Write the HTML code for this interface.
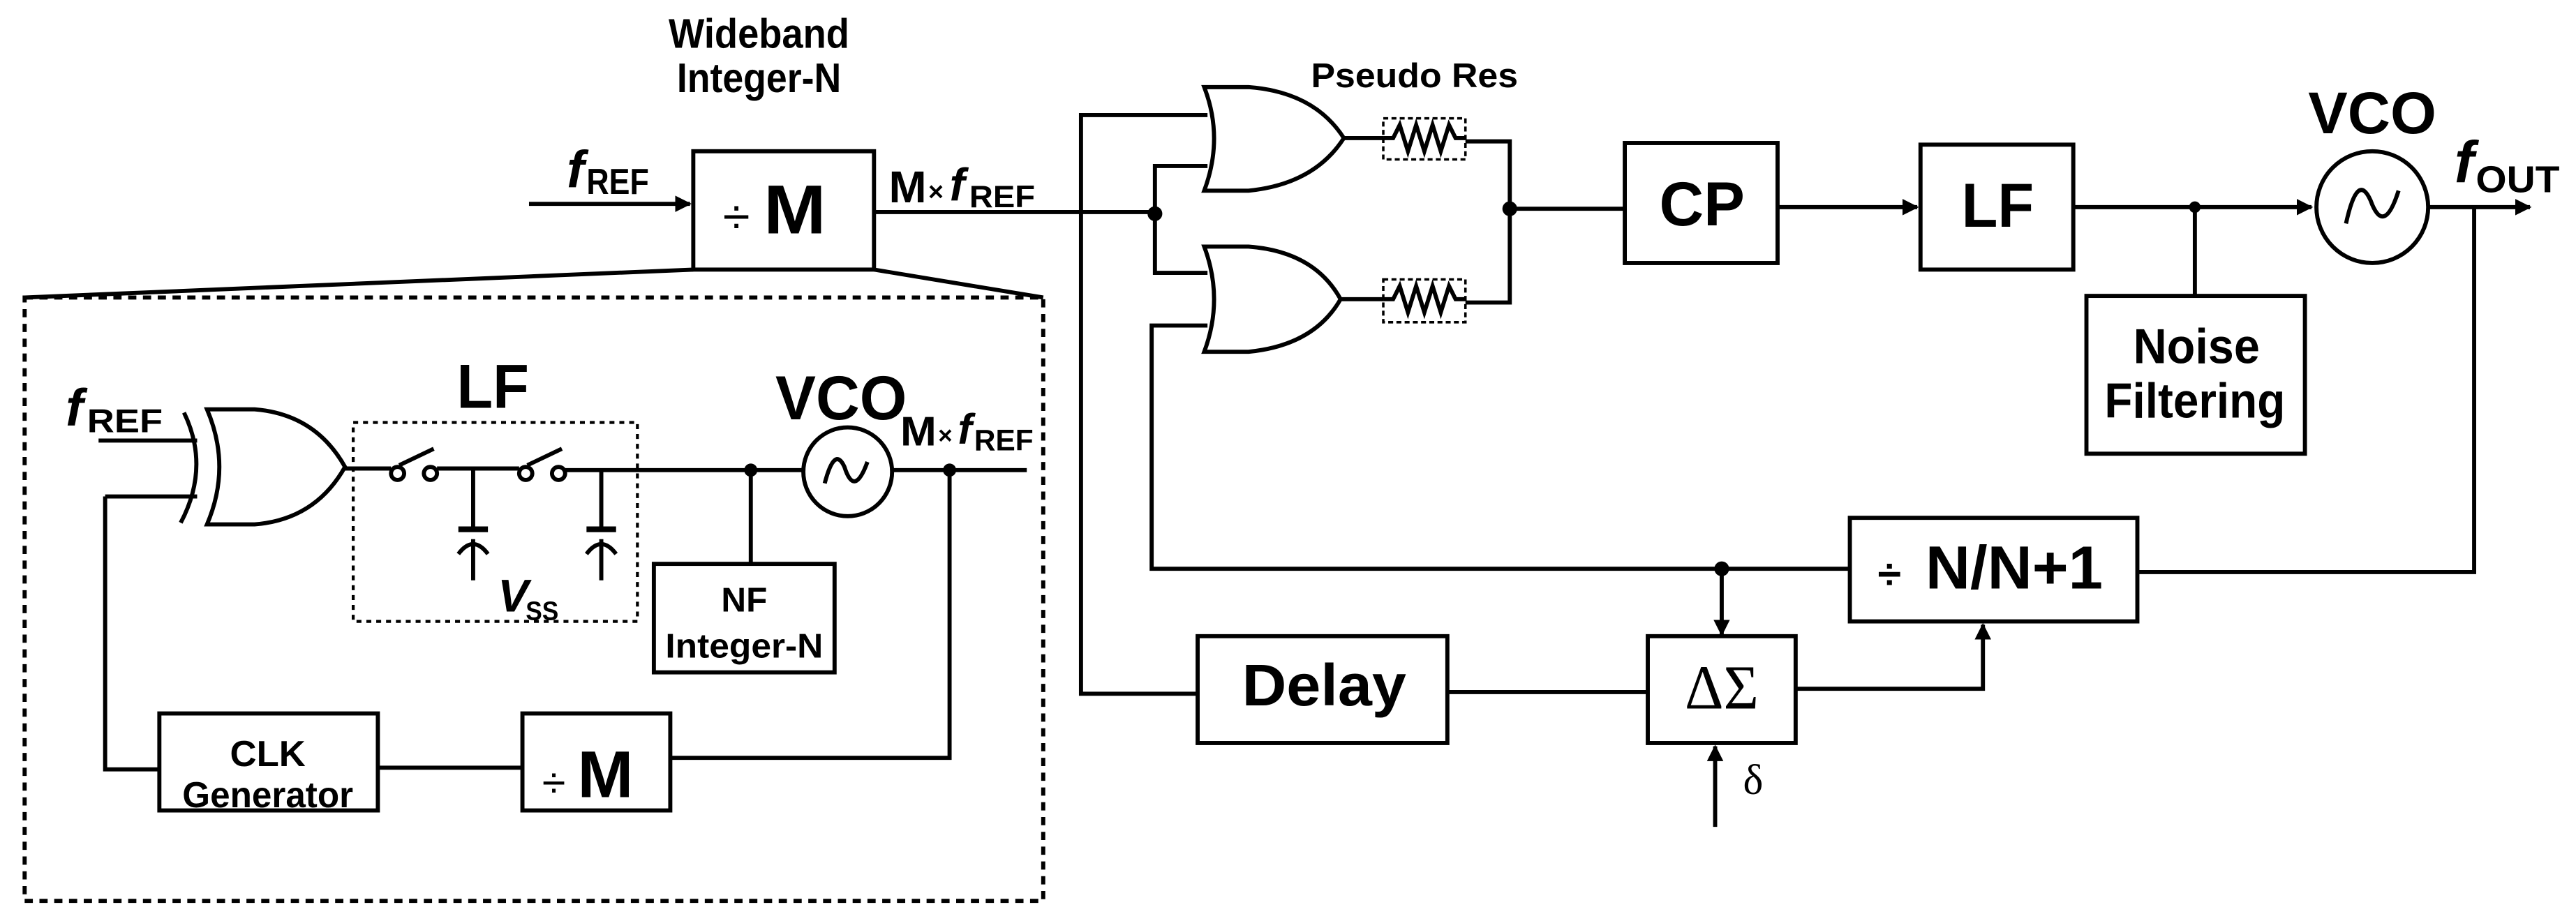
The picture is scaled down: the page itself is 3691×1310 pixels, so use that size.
<!DOCTYPE html>
<html><head><meta charset="utf-8"><style>
html,body{margin:0;padding:0;background:#fff;}
svg{display:block;}
text{font-family:"Liberation Sans",Arial,sans-serif;font-weight:bold;fill:#000;}
.s{font-family:"Liberation Serif",serif;font-weight:normal;}
</style></head><body>
<svg width="3691" height="1310" viewBox="0 0 1568 556" preserveAspectRatio="none" xmlns="http://www.w3.org/2000/svg">
<defs>
<marker id="ar" markerWidth="10" markerHeight="10" refX="9" refY="5" orient="auto" markerUnits="userSpaceOnUse">
<path d="M0,0 L10,5 L0,10 Z" fill="#000"/></marker>
</defs>
<g fill="none" stroke="#000" stroke-width="2.5">
<line x1="322" y1="124" x2="420" y2="124" marker-end="url(#ar)"/>
<rect x="422" y="92" width="110" height="72"/>
<line x1="532" y1="129" x2="703" y2="129"/>
<line x1="422" y1="164" x2="15" y2="181"/>
<line x1="532" y1="164" x2="635" y2="181"/>
<rect x="15" y="181" width="620" height="367" stroke-dasharray="5,4"/>
<line x1="60" y1="268" x2="120" y2="268"/>
<line x1="64" y1="302" x2="120" y2="302"/>
<polyline points="64,302 64,468 97,468"/>
<path d="M112,251 Q128,284 110,318"/>
<path d="M126,249 L155,249 Q192,252 210,284 Q192,316 155,319 L126,319 Q141,284 126,249 Z"/>
<rect x="97" y="434" width="133" height="59"/>
<rect x="318" y="434" width="90" height="59"/>
<line x1="230" y1="467" x2="318" y2="467"/>
<polyline points="408,461 578,461 578,286"/>
<rect x="215" y="257" width="173" height="121" stroke-dasharray="3,3" stroke-width="1.8"/>
<line x1="210" y1="285" x2="238" y2="285"/>
<circle cx="242" cy="288" r="4"/><circle cx="262" cy="288" r="4"/>
<line x1="243" y1="283" x2="264" y2="273"/>
<line x1="266" y1="285" x2="316" y2="285"/>
<circle cx="320" cy="288" r="4"/><circle cx="340" cy="288" r="4"/>
<line x1="321" y1="283" x2="342" y2="273"/>
<line x1="344" y1="286" x2="489" y2="286"/>
<line x1="288" y1="285" x2="288" y2="321"/>
<line x1="279" y1="322" x2="297" y2="322" stroke-width="3.5"/>
<path d="M279,337 Q288,325 297,337"/>
<line x1="288" y1="328" x2="288" y2="353"/>
<line x1="366" y1="285" x2="366" y2="321"/>
<line x1="357" y1="322" x2="375" y2="322" stroke-width="3.5"/>
<path d="M357,337 Q366,325 375,337"/>
<line x1="366" y1="328" x2="366" y2="353"/>
<line x1="457" y1="286" x2="457" y2="343"/>
<rect x="398" y="343" width="110" height="66"/>
<circle cx="516" cy="287" r="27"/>
<path d="M502,294 Q508,271 514,284 Q520,303 528,281"/>
<line x1="543" y1="286" x2="625" y2="286"/>
<polyline points="735,70 658,70 658,422 729,422"/>
<polyline points="735,101 703,101 703,166 735,166"/>
<path d="M733,53 L760,53 Q800,56 818,84 Q800,112 760,116 L733,116 Q745,84 733,53 Z"/>
<path d="M733,150 L760,150 Q800,153 816,182 Q800,210 760,214 L733,214 Q745,182 733,150 Z"/>
<polyline points="735,198 701,198 701,346 1126,346"/>
<line x1="818" y1="84" x2="842" y2="84"/>
<line x1="816" y1="182" x2="842" y2="182"/>
<rect x="842" y="72" width="50" height="25" stroke-dasharray="3,2" stroke-width="1.5"/>
<rect x="842" y="170" width="50" height="26" stroke-dasharray="3,2" stroke-width="1.5"/>
<polyline points="842,84 848,84 852,76 857,92 862,76 867,92 872,76 877,92 882,76 886,84 892,84"/>
<polyline points="842,182 848,182 852,174 857,190 862,174 867,190 872,174 877,190 882,174 886,182 892,182"/>
<polyline points="892,86 919,86 919,184 892,184"/>
<line x1="919" y1="127" x2="989" y2="127"/>
<rect x="989" y="87" width="93" height="73"/>
<line x1="1082" y1="126" x2="1167" y2="126" marker-end="url(#ar)"/>
<rect x="1169" y="88" width="93" height="76"/>
<line x1="1262" y1="126" x2="1407" y2="126" marker-end="url(#ar)"/>
<line x1="1336" y1="126" x2="1336" y2="180"/>
<rect x="1270" y="180" width="133" height="96"/>
<circle cx="1444" cy="126" r="34"/>
<path d="M1428,136 Q1435,104 1443,122 Q1451,144 1460,116"/>
<line x1="1478" y1="126" x2="1540" y2="126" marker-end="url(#ar)"/>
<polyline points="1506,126 1506,348 1301,348"/>
<rect x="1126" y="315" width="175" height="63"/>
<line x1="1048" y1="346" x2="1048" y2="386" marker-end="url(#ar)"/>
<rect x="1003" y="387" width="90" height="65"/>
<rect x="729" y="387" width="152" height="65"/>
<line x1="881" y1="421" x2="1003" y2="421"/>
<polyline points="1093,419 1207,419 1207,380" marker-end="url(#ar)"/>
<line x1="1044" y1="503" x2="1044" y2="454" marker-end="url(#ar)"/>
</g>
<g fill="#000">
<circle cx="457" cy="286" r="4"/><circle cx="578" cy="286" r="4"/>
<circle cx="703" cy="130" r="4.5"/><circle cx="919" cy="127" r="4.5"/>
<circle cx="1336" cy="126" r="3.5"/><circle cx="1048" cy="346" r="4.5"/>
</g>
<text x="462" y="29" font-size="25" text-anchor="middle" textLength="110" lengthAdjust="spacingAndGlyphs">Wideband</text>
<text x="462" y="56" font-size="25" text-anchor="middle" textLength="100" lengthAdjust="spacingAndGlyphs">Integer-N</text>
<text x="345" y="114" font-size="32" font-style="italic">f</text><text x="357" y="118" font-size="22" textLength="38" lengthAdjust="spacingAndGlyphs">REF</text>
<text x="440" y="142" font-size="42"><tspan font-size="30" font-weight="normal">÷ </tspan><tspan textLength="38" lengthAdjust="spacingAndGlyphs">M</tspan></text>
<text x="541" y="123" font-size="27" textLength="23" lengthAdjust="spacingAndGlyphs">M</text><text x="565" y="122" font-size="16" font-weight="normal">×</text>
<text x="578" y="122" font-size="28" font-style="italic">f</text><text x="590" y="126" font-size="19" textLength="40" lengthAdjust="spacingAndGlyphs">REF</text>
<text x="40" y="259" font-size="32" font-style="italic">f</text><text x="53" y="263" font-size="20" textLength="46" lengthAdjust="spacingAndGlyphs">REF</text>
<text x="278" y="248" font-size="38" textLength="44" lengthAdjust="spacingAndGlyphs">LF</text>
<text x="472" y="255" font-size="38" textLength="80" lengthAdjust="spacingAndGlyphs">VCO</text>
<text x="548" y="271" font-size="25" textLength="22" lengthAdjust="spacingAndGlyphs">M</text><text x="571" y="270" font-size="15" font-weight="normal">×</text>
<text x="583" y="270" font-size="26" font-style="italic">f</text><text x="593" y="274" font-size="18" textLength="36" lengthAdjust="spacingAndGlyphs">REF</text>
<text x="303" y="372" font-size="28" font-style="italic">V</text><text x="320" y="377" font-size="16" textLength="20" lengthAdjust="spacingAndGlyphs">SS</text>
<text x="453" y="372" font-size="21" text-anchor="middle" textLength="28" lengthAdjust="spacingAndGlyphs">NF</text>
<text x="453" y="400" font-size="21" text-anchor="middle" textLength="96" lengthAdjust="spacingAndGlyphs">Integer-N</text>
<text x="163" y="466" font-size="22" text-anchor="middle" textLength="46" lengthAdjust="spacingAndGlyphs">CLK</text>
<text x="163" y="491" font-size="22" text-anchor="middle" textLength="104" lengthAdjust="spacingAndGlyphs">Generator</text>
<text x="330" y="485" font-size="40"><tspan font-size="26" font-weight="normal">÷ </tspan><tspan textLength="34" lengthAdjust="spacingAndGlyphs">M</tspan></text>
<text x="861" y="53" font-size="21" text-anchor="middle" textLength="126" lengthAdjust="spacingAndGlyphs">Pseudo Res</text>
<text x="1036" y="137" font-size="38" text-anchor="middle" textLength="52" lengthAdjust="spacingAndGlyphs">CP</text>
<text x="1216" y="138" font-size="38" text-anchor="middle" textLength="44" lengthAdjust="spacingAndGlyphs">LF</text>
<text x="1444" y="81" font-size="36" text-anchor="middle" textLength="78" lengthAdjust="spacingAndGlyphs">VCO</text>
<text x="1494" y="111" font-size="36" font-style="italic">f</text><text x="1507" y="117" font-size="23" textLength="51" lengthAdjust="spacingAndGlyphs">OUT</text>
<text x="1337" y="221" font-size="30" text-anchor="middle" textLength="77" lengthAdjust="spacingAndGlyphs">Noise</text>
<text x="1336" y="254" font-size="30" text-anchor="middle" textLength="110" lengthAdjust="spacingAndGlyphs">Filtering</text>
<text x="1143" y="358" font-size="26" font-weight="normal">÷</text>
<text x="1172" y="358" font-size="37" textLength="108" lengthAdjust="spacingAndGlyphs">N/N+1</text>
<text x="806" y="429" font-size="36" text-anchor="middle" textLength="100" lengthAdjust="spacingAndGlyphs">Delay</text>
<text x="1048" y="431" font-size="38" text-anchor="middle" class="s" textLength="45" lengthAdjust="spacingAndGlyphs">ΔΣ</text>
<text x="1061" y="483" font-size="26" class="s">δ</text>
</svg>
</body></html>
